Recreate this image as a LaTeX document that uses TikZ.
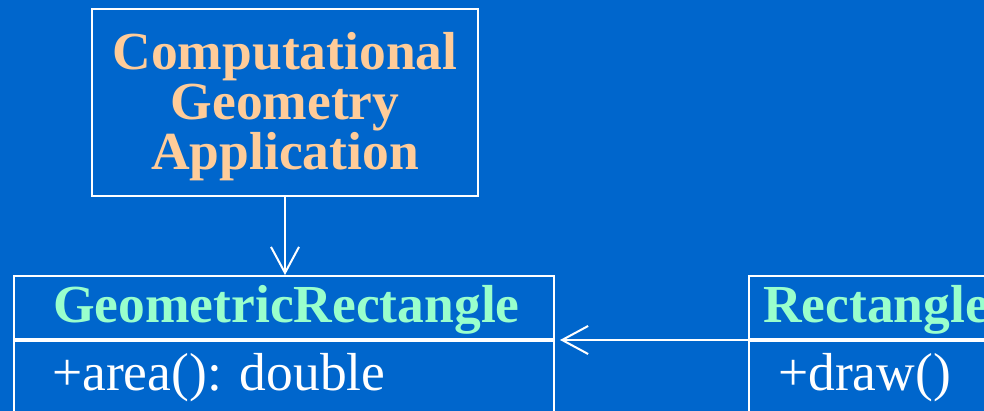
\documentclass[tikz,border=0pt]{standalone}
\usepackage{fontspec}
\setmainfont{Liberation Serif}
\usepackage{tikz}
\usetikzlibrary{arrows.meta, positioning, calc}
\definecolor{slideblue}{RGB}{0,102,204}
\definecolor{mypeach}{RGB}{255,204,153}
\definecolor{mymint}{RGB}{153,255,204}
\tikzset{
  classbox/.style={rectangle, draw=white, line width=2pt, inner sep=0pt,
    anchor=north west},
  appbox/.style={rectangle, draw=white, line width=2pt, inner sep=0pt},
  apptext/.style={text=mypeach, inner sep=0pt, align=center,
    font=\fontsize{53.5}{50}\selectfont\bfseries},
  nametext/.style={text=mymint, inner sep=0pt, anchor=base west,
    font=\fontsize{53.5}{52}\selectfont\bfseries},
  optext/.style={text=white, inner sep=0pt, anchor=base west,
    font=\fontsize{53.5}{52}\selectfont},
  openarrow/.style={-{Straight Barb[length=26pt, width=28pt]}, line width=2pt,
    color=white}
}
\begin{document}
\begin{tikzpicture}[x=1pt, y=-1pt]
  \useasboundingbox (0,0) rectangle (984,411);
  \fill[slideblue] (0,0) rectangle (984,411);
  \clip (0,0) rectangle (984,411);

  % --- Application ---
  \node[appbox, minimum width=386pt, minimum height=187pt] (app) at (285,102.5) {};
  \node[apptext] (appText) at ([yshift=-4.5pt]app.center)
    {Computational\\Geometry\\Application};

  % --- GeometricRectangle ---
  \node[classbox, minimum width=540pt, minimum height=63pt] (geoName) at (13,275) {};
  \node[classbox, minimum width=540pt, minimum height=100pt] (geoOps) at (geoName.south west) {};
  \node[nametext] (geoTitle) at (53,322) {GeometricRectangle};
  \node[optext] (geoArea) at (52,390) {+area(): double};

  % --- Rectangle ---
  \node[classbox, minimum width=300pt, minimum height=63pt] (rectName) at (748,275) {};
  \node[classbox, minimum width=300pt, minimum height=100pt] (rectOps) at (rectName.south west) {};
  \node[nametext] (rectTitle) at (763,322) {Rectangle};
  \node[optext] (rectDraw) at (778,390) {+draw()};

  % --- associations ---
  \draw[openarrow] (app.south) -- (app.south |- geoName.north);
  \draw[openarrow, shorten >=5pt] (rectName.south west) -- (geoName.south east);
\end{tikzpicture}
\end{document}
